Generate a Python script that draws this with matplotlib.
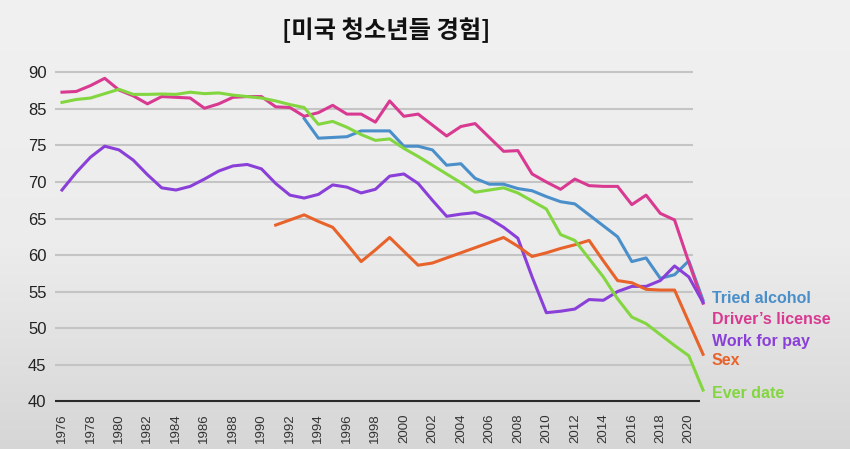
import numpy as np
import matplotlib.pyplot as plt
from matplotlib.colors import LinearSegmentedColormap

# readings (axis units: evenly spaced ticks, labelled below)
years = list(range(1976, 2022))

drivers_license = [82.3, 82.4, 83.2, 84.2, 82.6, 81.8, 80.7, 81.7, 81.6, 81.5,
                   80.1, 80.7, 81.6, 81.7, 81.7, 80.3, 80.2, 79.0, 79.5, 80.5,
                   79.3, 79.3, 78.2, 81.1, 79.0, 79.3, 77.8, 76.3, 77.6, 78.0,
                   76.1, 74.2, 74.3, 71.1, 70.0, 69.0, 70.4, 69.5, 69.4, 69.4,
                   66.9, 68.2, 65.7, 64.8, 59.0, 53.4]

ever_date = [80.9, 81.3, 81.5, 82.1, 82.7, 82.0, 82.0, 82.05, 82.0, 82.3,
             82.1, 82.2, 81.9, 81.7, 81.5, 81.1, 80.6, 80.2, 77.9, 78.3,
             77.5, 76.5, 75.7, 75.9, 74.6, 73.5, 72.3, 71.1, 69.9, 68.6,
             68.9, 69.2, 68.5, 67.4, 66.3, 62.8, 62.0, 59.5, 57.0, 54.0,
             51.5, 50.6, 49.1, 47.6, 46.2, 41.5]

work_for_pay = [68.9, 71.3, 73.4, 74.9, 74.4, 73.0, 71.0, 69.2, 68.9, 69.4,
                70.4, 71.5, 72.2, 72.4, 71.8, 69.8, 68.2, 67.8, 68.3, 69.6,
                69.3, 68.5, 69.0, 70.8, 71.1, 69.8, 67.5, 65.3, 65.6, 65.8,
                65.0, 63.8, 62.3, 57.0, 52.1, 52.3, 52.6, 53.9, 53.8, 55.0,
                55.7, 55.7, 56.5, 58.5, 57.0, 53.5]

alc_years = list(range(1993, 2022))
tried_alcohol = [78.7, 76.0, 76.1, 76.2, 77.0, 77.0, 77.0, 74.9, 74.9, 74.4,
                 72.3, 72.5, 70.5, 69.7, 69.7, 69.1, 68.8, 68.0, 67.3, 67.0,
                 65.5, 64.0, 62.5, 59.1, 59.6, 56.8, 57.3, 59.2, 53.8]

sex_years = list(range(1991, 2022))
sex = [64.1, 64.8, 65.5, 64.6, 63.8, 61.5, 59.1, 60.7, 62.4, 60.5,
       58.6, 58.9, 59.6, 60.3, 61.0, 61.7, 62.4, 61.2, 59.8, 60.3,
       60.9, 61.4, 62.0, 59.2, 56.5, 56.2, 55.3, 55.2, 55.2, 50.8, 46.4]

ytick_pos = [40, 45, 50, 55, 60, 65, 70, 75, 80, 85]
ytick_labels = ['40', '45', '50', '55', '60', '65', '70', '75', '85', '90']
xticks = list(range(1976, 2021, 2))

series = [
    ('Tried alcohol', alc_years, tried_alcohol, '#4a8fca', 54.0),
    ("Driver\u2019s license", years, drivers_license, '#d93a91', 51.1),
    ('Work for pay', years, work_for_pay, '#8a40d8', 48.2),
    ('Sex', sex_years, sex, '#e8632b', 45.5),
    ('Ever date', years, ever_date, '#83d640', 41.1),
]

fig = plt.figure(figsize=(8.5, 4.49), dpi=100)

# soft grey background, a bit darker towards the bottom
bg = fig.add_axes([0, 0, 1, 1], zorder=-10)
cmap = LinearSegmentedColormap.from_list(
    'bg', [(0, '#f1f1f1'), (0.55, '#ececec'), (1, '#d6d6d6')])
grad = np.linspace(0, 1, 256).reshape(-1, 1)
bg.imshow(grad, aspect='auto', cmap=cmap, extent=[0, 1, 0, 1])
bg.axis('off')

ax = fig.add_axes([0.0595, 0.0987, 0.776, 0.7724])
ax.set_facecolor('none')
ax.set_xlim(1975.2, 2021.5)
ax.set_ylim(39.5, 87)

ax.hlines(ytick_pos[1:], 1975.5, 2020.3, color='#c4c4c4', lw=1.5, zorder=1)
ax.hlines(40, 1975.5, 2020.8, color='#2a2a2a', lw=1.5, zorder=2)

for name, xs, ys, col, ly in series:
    ax.plot(xs, ys, color=col, lw=2.2, solid_joinstyle='round', zorder=3)
    ax.text(2021.6, ly, name, color=col, fontsize=11.5, fontweight='bold',
            family='Liberation Sans', va='center', ha='left', clip_on=False)

for s in ax.spines.values():
    s.set_visible(False)
ax.set_yticks(ytick_pos)
ax.set_yticklabels(ytick_labels, family='Liberation Sans', fontsize=12, color='#222222')
ax.set_xticks(xticks)
ax.set_xticklabels([str(y) for y in xticks], rotation=90, family='Liberation Sans',
                   fontsize=9.5, color='#333333')
ax.tick_params(length=0)
ax.tick_params(axis='y', pad=3)
ax.tick_params(axis='x', pad=6)

fig.text(0.454, 0.933, '[미국 청소년들 경험]', ha='center', va='center',
         family=['Noto Sans CJK KR', 'DejaVu Sans'], fontsize=17.5,
         fontweight='bold', color='#111111')

fig.savefig('out.png', dpi=100)
